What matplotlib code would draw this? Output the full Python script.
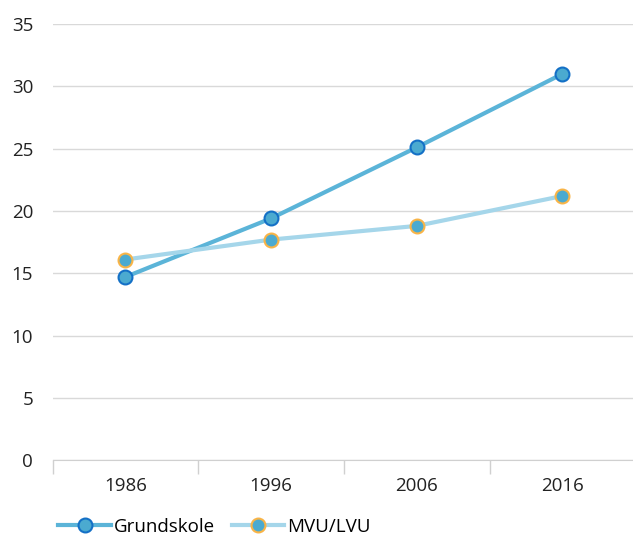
import matplotlib.pyplot as plt
import numpy as np

years = ["1986", "1996", "2006", "2016"]
grundskole = [14.7, 19.4, 25.1, 31.0]
mvu_lvu = [16.1, 17.7, 18.8, 21.2]

plt.rcParams['font.family'] = ['Open Sans', 'DejaVu Sans']

fig = plt.figure(figsize=(6.33, 5.35), dpi=100)
ax = fig.add_axes([0.083, 0.14, 0.9205, 0.815])

x = np.arange(len(years))
ax.plot(x, grundskole, color='#5BB4D8', lw=3, marker='o', ms=10,
        mfc='#4BAAD0', mec='#1470C6', mew=1.5, label='Grundskole', zorder=3)
ax.plot(x, mvu_lvu, color='#A5D6EA', lw=3, marker='o', ms=10,
        mfc='#4BAAD0', mec='#F8B447', mew=1.5, label='MVU/LVU', zorder=3)

ax.set_xlim(-0.5, 3.5)
ax.set_ylim(0, 35)
ax.set_yticks(range(0, 36, 5))
ax.set_xticks(x)
ax.set_xticklabels(years)
ax.set_xticks(np.arange(-0.5, 3.6, 1), minor=True)
ax.tick_params(axis='x', which='major', length=0, pad=12, labelsize=13.5, colors='#222222')
ax.tick_params(axis='x', which='minor', length=10, color='#d0d0d0', width=1)
ax.tick_params(axis='y', length=0, pad=14, labelsize=13.5, colors='#222222')
ax.grid(axis='y', color='#d9d9d9', lw=1)
ax.set_axisbelow(True)
for s in ['top', 'right', 'left']:
    ax.spines[s].set_visible(False)
ax.spines['bottom'].set_color('#d0d0d0')

fig.legend(loc='center left', bbox_to_anchor=(0.0656, 0.015), ncol=2, frameon=False,
           fontsize=13.5, handlelength=2.8, handletextpad=0.15, columnspacing=0.9)

fig.savefig('out.png', dpi=100)
